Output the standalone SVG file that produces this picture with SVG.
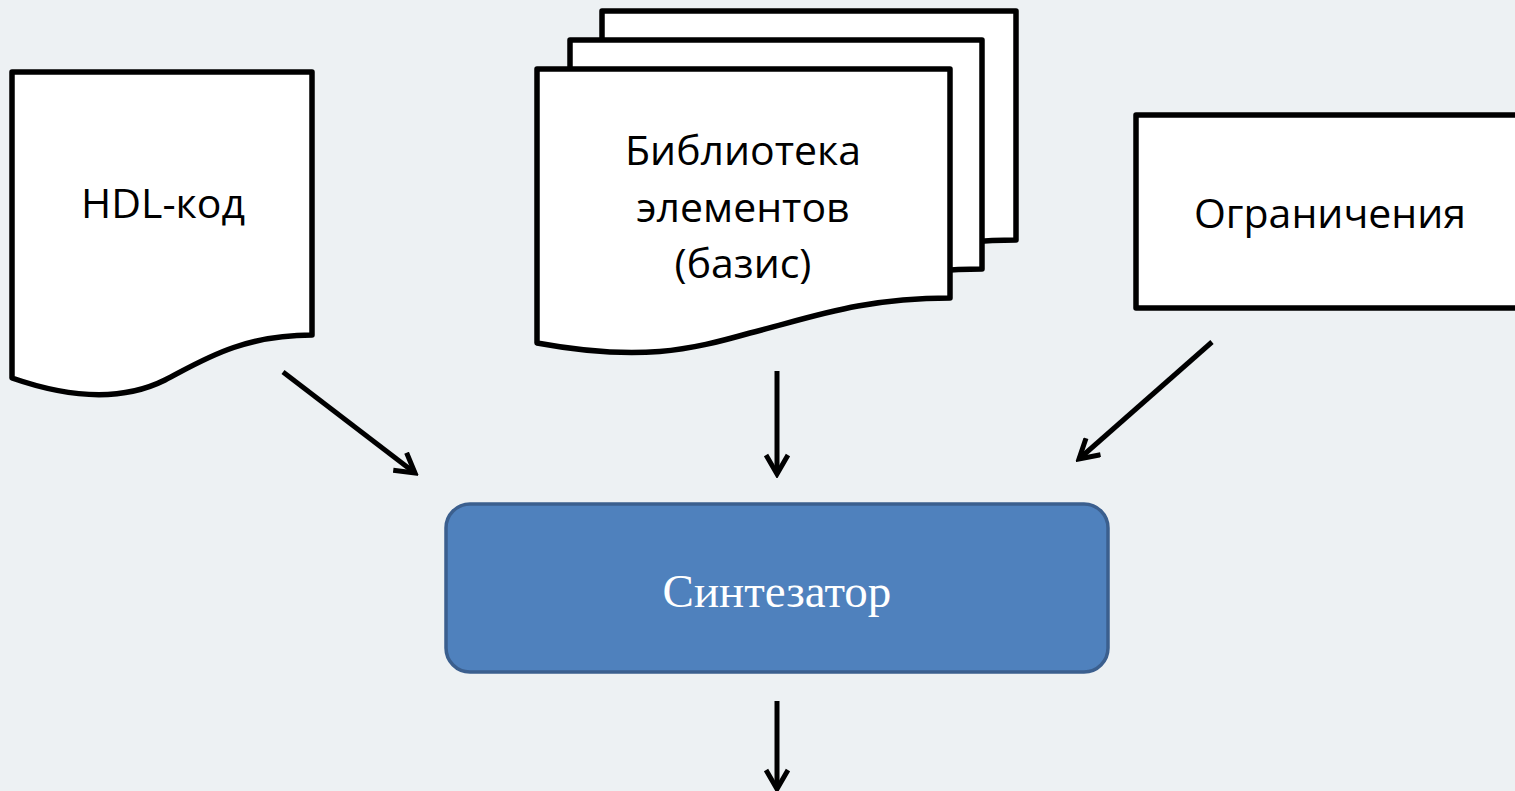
<svg xmlns="http://www.w3.org/2000/svg" width="1515" height="791" viewBox="0 0 1515 791">
<style>
.doc{fill:#fff;stroke:#000;stroke-width:5.5;stroke-linejoin:round}
.lbl{font-family:"Open Sans","Noto Sans","DejaVu Sans",sans-serif;font-size:41px;fill:#000;text-anchor:middle}
.conn{stroke:#000;stroke-width:5;fill:none}
</style>
<defs>
<marker id="arr" viewBox="0 0 26 26" refX="22" refY="13" markerWidth="26" markerHeight="26" markerUnits="userSpaceOnUse" orient="auto">
<path d="M3,2 L22,13 L3,24" fill="none" stroke="#000" stroke-width="5" stroke-linejoin="miter"/>
</marker>
</defs>
<rect width="1515" height="791" fill="#EDF1F3"/>
<g id="hdl">
<path class="doc" d="M12,72 H312 V335 C240,335 200,362 165,380 C125,400 75,400 12,378 Z"/>
<text class="lbl" x="163" y="218">HDL-код</text>
</g>
<g id="library">
<path class="doc" d="M602,11 H1016 V240 C926,240 876,260 816,275 C756,292 706,304 602,285 Z"/>
<path class="doc" d="M570,40 H982 V269 C892,269 842,289 782,304 C722,321 672,333 570,314 Z"/>
<path class="doc" d="M537,69 H950 V298 C860,298 810,318 750,333 C690,350 640,362 537,343 Z"/>
<text class="lbl" x="743" y="165">Библиотека</text>
<text class="lbl" x="743" y="222">элементов</text>
<text class="lbl" x="743" y="278">(базис)</text>
</g>
<g id="constraints">
<rect class="doc" x="1136" y="115" width="420" height="193"/>
<text class="lbl" x="1330" y="228">Ограничения</text>
</g>
<g id="synth">
<rect x="446" y="504" width="662" height="168" rx="24" ry="24" fill="#4F81BD" stroke="#3B5F8E" stroke-width="3.5"/>
<text x="777" y="607" font-family="'Liberation Serif','Times New Roman',serif" font-size="47" fill="#fff" text-anchor="middle">Синтезатор</text>
</g>
<g id="connectors">
<line class="conn" x1="283" y1="372" x2="415" y2="473" marker-end="url(#arr)"/>
<line class="conn" x1="777" y1="371" x2="777" y2="474" marker-end="url(#arr)"/>
<line class="conn" x1="1212" y1="342" x2="1079" y2="459" marker-end="url(#arr)"/>
<line class="conn" x1="777" y1="701" x2="777" y2="789" marker-end="url(#arr)"/>
</g>
</svg>
